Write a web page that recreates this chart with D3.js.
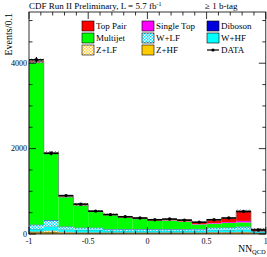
<!DOCTYPE html>
<html><head><meta charset="utf-8">
<script src="https://cdn.jsdelivr.net/npm/d3@7"></script>
<style>body{margin:0;background:#fff}svg{display:block}text{font-family:"Liberation Serif","DejaVu Serif",serif}</style>
</head><body><div id="c"></div>
<script>
// 16 bins of NN_QCD from -1 to 1
const binEdges = [-1,-0.875,-0.75,-0.625,-0.5,-0.375,-0.25,-0.125,0,0.125,0.25,0.375,0.5,0.625,0.75,0.875,1];
const zHF   = [45,50,35,30,30,30,30,30,30,30,30,30,35,35,40,20];
const zLF   = [15,30,15,10,10,8,8,8,8,8,8,8,10,10,12,5];
const wHF   = [55,95,55,55,55,38,38,38,38,38,38,40,45,45,50,20];
const wLF   = [95,140,63,47,47,33,33,33,33,33,33,35,50,55,60,15];
const diboson = [10,10,8,8,6,6,6,6,6,6,6,6,8,8,10,3];
const multijet = [3800,1550,685,520,370,325,265,235,190,200,175,105,95,105,100,5];
const singleTop = [8,8,6,6,6,6,6,6,6,8,8,10,15,20,35,8];
const topPair = [20,18,15,14,14,14,14,15,18,22,30,45,70,90,235,40];
const uncert = [60,40,28,40,22,20,18,18,16,16,16,15,18,20,30,25];
const dataVals = [4080,1890,900,700,535,455,405,375,335,350,325,275,335,375,525,95];
const yTicks = [0,2000,4000];
const xTicks = [-1,-0.5,0,0.5,1];

const W=267,H=257;
const svg=d3.select("#c").append("svg").attr("width",W).attr("height",H);
svg.append("rect").attr("width",W).attr("height",H).attr("fill","#fff");
const defs=svg.append("defs");
function dotPat(id,col){
  const p=defs.append("pattern").attr("id",id).attr("width",3).attr("height",3).attr("patternUnits","userSpaceOnUse");
  p.append("rect").attr("width",3).attr("height",3).attr("fill","#fff");
  p.append("rect").attr("width",1.5).attr("height",1.5).attr("fill",col);
  p.append("rect").attr("x",1.5).attr("y",1.5).attr("width",1.5).attr("height",1.5).attr("fill",col);
}
dotPat("pwlf","#00e0ff");
dotPat("pzlf","#ffcc33");
const hp=defs.append("pattern").attr("id","punc").attr("width",3).attr("height",3).attr("patternUnits","userSpaceOnUse");
hp.append("path").attr("d","M0,3L3,0").attr("stroke","#666").attr("stroke-width",1);

const L=29,R=265.8,T=12,B=234;
const x=d3.scaleLinear().domain([-1,1]).range([L,R]);
const y=d3.scaleLinear().domain([0,5200]).range([B,T]);

const layers=[
 {name:"Z+HF",vals:zHF,fill:"#b89018",sw:0.4},
 {name:"Z+LF",vals:zLF,fill:"url(#pzlf)",sw:0.3},
 {name:"W+HF",vals:wHF,fill:"#00ffff",sw:0.4},
 {name:"W+LF",vals:wLF,fill:"url(#pwlf)",sw:0.3},
 {name:"Diboson",vals:diboson,fill:"#0000dd",sw:0},
 {name:"Multijet",vals:multijet,fill:"#00ff00",sw:0},
 {name:"Single Top",vals:singleTop,fill:"#ff00ff",sw:0},
 {name:"Top Pair",vals:topPair,fill:"#ff0000",sw:0}
];
const g=svg.append("g");
const nb=binEdges.length-1;
const cum=new Array(nb).fill(0);
layers.forEach(l=>{
  for(let i=0;i<nb;i++){
    const y0=cum[i],y1=cum[i]+l.vals[i];
    const r=g.append("rect").attr("x",x(binEdges[i])).attr("width",x(binEdges[i+1])-x(binEdges[i]))
     .attr("y",y(y1)).attr("height",y(y0)-y(y1)).attr("fill",l.fill);
    if(l.sw>0){
      g.append("line").attr("x1",x(binEdges[i])).attr("x2",x(binEdges[i+1])).attr("y1",y(y1)).attr("y2",y(y1))
       .attr("stroke","#224").attr("stroke-width",l.sw);
    }
    cum[i]=y1;
  }
});
// uncertainty band
for(let i=0;i<nb;i++){
  g.append("rect").attr("x",x(binEdges[i])).attr("width",x(binEdges[i+1])-x(binEdges[i]))
   .attr("y",y(cum[i]+uncert[i])).attr("height",y(cum[i]-uncert[i])-y(cum[i]+uncert[i]))
   .attr("fill","url(#punc)").attr("opacity",0.9);
}
// outline of stack
const line=[];
for(let i=0;i<nb;i++){line.push([x(binEdges[i]),y(cum[i])]);line.push([x(binEdges[i+1]),y(cum[i])]);}
g.append("path").attr("d","M"+x(-1)+","+B+"L"+line.map(p=>p.join(",")).join("L")+"L"+x(1)+","+B)
 .attr("fill","none").attr("stroke","#777").attr("stroke-width",0.8);

// data
const dg=svg.append("g");
for(let i=0;i<nb;i++){
  const cx=x((binEdges[i]+binEdges[i+1])/2), cy=y(dataVals[i]);
  const e=Math.sqrt(dataVals[i]);
  dg.append("line").attr("x1",x(binEdges[i])).attr("x2",x(binEdges[i+1])).attr("y1",cy).attr("y2",cy).attr("stroke","#000").attr("stroke-width",1.5);
  dg.append("line").attr("x1",cx).attr("x2",cx).attr("y1",y(dataVals[i]+e)).attr("y2",y(dataVals[i]-e)).attr("stroke","#000").attr("stroke-width",1.2);
  dg.append("circle").attr("cx",cx).attr("cy",cy).attr("r",1.7).attr("fill","#000");
}

// frame and ticks
const ax=svg.append("g").attr("stroke","#000").attr("stroke-width",0.8);
ax.append("rect").attr("x",L).attr("y",T).attr("width",R-L).attr("height",B-T).attr("fill","none");
d3.range(0,5201,500).forEach(v=>{
  const len=(v%2000===0)?7:3.5;
  ax.append("line").attr("x1",L).attr("x2",L+len).attr("y1",y(v)).attr("y2",y(v));
  ax.append("line").attr("x1",R).attr("x2",R-len).attr("y1",y(v)).attr("y2",y(v));
});
d3.range(-10,11).forEach(k=>{
  const v=k/10;const len=(k%5===0)?7:3.5;
  ax.append("line").attr("x1",x(v)).attr("x2",x(v)).attr("y1",B).attr("y2",B-len);
  ax.append("line").attr("x1",x(v)).attr("x2",x(v)).attr("y1",T).attr("y2",T+len);
});
const tl=svg.append("g").attr("font-size",8).attr("fill","#000");
yTicks.forEach(v=>tl.append("text").attr("x",L-2).attr("y",y(v)+2.8).attr("text-anchor","end").text(v));
xTicks.forEach(v=>tl.append("text").attr("x",x(v)).attr("y",B+10).attr("text-anchor","middle").text(String(v)));

// axis titles
svg.append("text").attr("transform","translate(12,13) rotate(-90)").attr("text-anchor","end").attr("font-size",10).text("Events/0.1");
const xl=svg.append("text").attr("x",R).attr("y",252).attr("text-anchor","end").attr("font-size",9.5);
xl.append("tspan").text("NN");
xl.append("tspan").attr("font-size",6.5).attr("dy",2).text("QCD");

// title
const tt=svg.append("text").attr("x",29).attr("y",8.5).attr("font-size",9);
tt.append("tspan").text("CDF Run II Preliminary, L = 5.7 fb");
tt.append("tspan").attr("font-size",6).attr("dy",-3).text("-1");
svg.append("text").attr("x",205).attr("y",8.5).attr("font-size",9).text("\u2265 1 b-tag");

// legend
const leg=[
 {n:"Top Pair",f:"#ff0000",c:82,r:0},{n:"Single Top",f:"#ff00ff",c:142,r:0},{n:"Diboson",f:"#0000dd",c:207,r:0},
 {n:"Multijet",f:"#00ff00",c:82,r:1},{n:"W+LF",f:"url(#pwlf)",c:142,r:1},{n:"W+HF",f:"#00ffff",c:207,r:1},
 {n:"Z+LF",f:"url(#pzlf)",c:82,r:2},{n:"Z+HF",f:"#ffcc00",c:142,r:2},{n:"DATA",f:null,c:207,r:2}
];
const lg=svg.append("g");
leg.forEach(d=>{
  const cy=26+d.r*12;
  if(d.f){
    lg.append("rect").attr("x",d.c).attr("y",cy-5).attr("width",12).attr("height",10).attr("fill",d.f).attr("stroke","#000").attr("stroke-width",0.6);
  } else {
    lg.append("line").attr("x1",d.c).attr("x2",d.c+12).attr("y1",cy).attr("y2",cy).attr("stroke","#000").attr("stroke-width",1.2);
    lg.append("circle").attr("cx",d.c+6).attr("cy",cy).attr("r",1.6).attr("fill","#000");
  }
  lg.append("text").attr("x",d.c+14).attr("y",cy+3).attr("font-size",9).text(d.n);
});
</script></body></html>
